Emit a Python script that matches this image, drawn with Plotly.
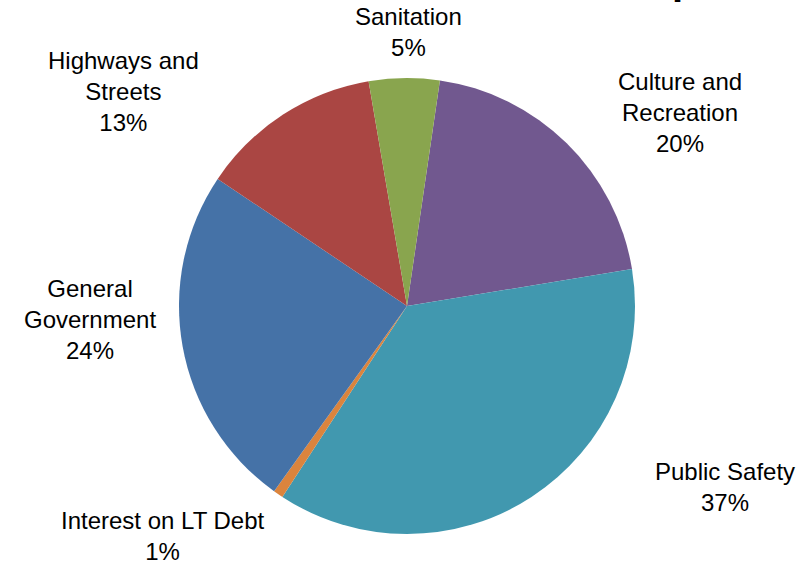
import plotly.graph_objects as go

W, H = 796, 566

# Data (clockwise, starting just right of 12 o'clock)
categories = ["Culture and Recreation", "Public Safety", "Interest on LT Debt",
              "General Government", "Highways and Streets", "Sanitation"]
values = [20.1, 36.8, 0.7, 24.5, 12.9, 5.0]
label_texts = ["Culture and<br>Recreation<br>20%", "Public Safety<br>37%",
               "Interest on LT Debt<br>1%", "General<br>Government<br>24%",
               "Highways and<br>Streets<br>13%", "Sanitation<br>5%"]
colors = ["#71588F", "#4198AF", "#DB843D", "#4572A7", "#AA4643", "#89A54E"]

# label block centers in pixels (layout only)
label_pos = [(680, 113), (725, 487), (163, 536), (90, 319), (123, 91), (408, 32)]

cx, cy, r = 407, 306, 228

fig = go.Figure(go.Pie(
    labels=categories, values=values, sort=False, direction="clockwise",
    rotation=8.3, textinfo="none", hoverinfo="label+percent",
    marker=dict(colors=colors, line=dict(width=0)),
    domain=dict(x=[(cx - r) / W, (cx + r) / W], y=[1 - (cy + r) / H, 1 - (cy - r) / H]),
    showlegend=False,
))

annotations = []
for txt, (x, y) in zip(label_texts, label_pos):
    annotations.append(dict(text=txt, x=x / W, y=1 - y / H, xref="paper", yref="paper",
                            xanchor="center", yanchor="middle", showarrow=False,
                            align="center",
                            font=dict(family="Liberation Sans, Arial, sans-serif", size=24, color="#000000")))
# cut-off title fragment at top edge (only a descender is visible in the reference)
annotations.append(dict(text="<b>p</b>", x=684 / W, y=1 - 3.5 / H, xref="paper", yref="paper",
                        xanchor="center", yanchor="bottom", showarrow=False,
                        font=dict(family="Liberation Sans, Arial, sans-serif", size=40, color="#000000")))

fig.update_layout(width=W, height=H, margin=dict(l=0, r=0, t=0, b=0),
                  paper_bgcolor="white", plot_bgcolor="white", annotations=annotations)

fig.write_html("out.html")
